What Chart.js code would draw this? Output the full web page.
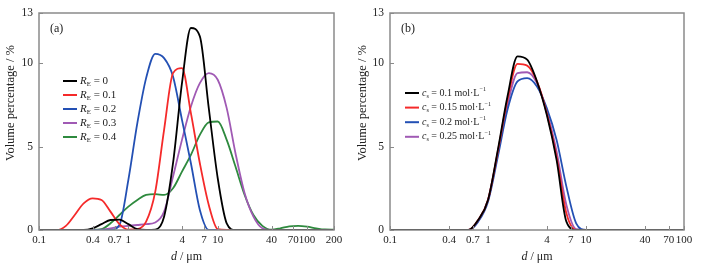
<!DOCTYPE html>
<html>
<head>
<meta charset="utf-8">
<script src="https://cdn.jsdelivr.net/npm/chart.js@4.4.1/dist/chart.umd.min.js"></script>
<style>
  html, body { margin: 0; padding: 0; background: #fff; }
  .panel { position: absolute; top: 0; width: 357px; height: 270px; }
</style>
</head>
<body>
<div class="panel" style="left:0"><canvas id="chartA" width="357" height="270"></canvas></div>
<div class="panel" style="left:357px"><canvas id="chartB" width="357" height="270"></canvas></div>
<script>
// particle size classes (um)
var sizes = [0.1, 0.126, 0.158, 0.2, 0.251, 0.316, 0.398, 0.501, 0.631, 0.794,
             1, 1.26, 1.58, 2, 2.51, 3.16, 3.98, 5.01, 6.31, 7.94,
             10, 12.6, 15.8, 20, 25.1, 31.6, 39.8, 50.1, 63.1, 79.4,
             100, 126, 158, 200];

// (a) volume percentage for each R_E
var re0  = [0,0,0,0,0,0,0.1,0.35,0.6,0.62, 0.35,0.05,0,0.02,0.8,4.0,8.8,12.1,11.6,7.3, 3.1,0.4,0,0,0,0,0,0,0,0, 0,0,0,0];
var re01 = [0,0,0,0.25,0.9,1.6,1.9,1.8,1.1,0.35, 0.02,0.05,0.5,2.3,6.0,9.4,9.7,7.0,4.0,1.5, 0.05,0,0,0,0,0,0,0,0,0, 0,0,0,0];
var re02 = [0,0,0,0,0,0,0,0,0,0.3, 3.0,6.4,9.1,10.55,10.3,9.2,6.6,4.0,1.2,0, 0,0,0,0,0,0,0,0,0,0, 0,0,0,0];
var re03 = [0,0,0,0,0,0,0,0.02,0.1,0.2, 0.25,0.3,0.35,0.45,1.1,3.2,5.4,7.4,8.8,9.4, 9.0,7.3,4.6,2.2,0.8,0.1,0,0,0,0, 0,0,0,0];
var re04 = [0,0,0,0,0,0,0,0.05,0.4,0.9, 1.4,1.8,2.1,2.15,2.1,2.5,3.5,4.5,5.7,6.45, 6.5,5.4,3.8,2.1,0.9,0.25,0.02,0.1,0.22,0.25, 0.2,0.1,0.03,0.02];
var reLabels = ['0', '0.1', '0.2', '0.3', '0.4'];

// (b) volume percentage for each c_s (sizes 0.1 - 100 um)
var cs01  = [0,0,0,0,0,0,0,0,0,0.6, 1.8,4.8,8.0,10.4,10.2,8.9,6.9,4.2,0.5,0, 0,0,0,0,0,0,0,0,0,0, 0];
var cs015 = [0,0,0,0,0,0,0,0,0,0.6, 1.8,4.7,7.8,9.95,9.85,8.9,7.0,4.4,1.0,0, 0,0,0,0,0,0,0,0,0,0, 0];
var cs02  = [0,0,0,0,0,0,0,0,0,0.5, 1.7,4.4,7.2,8.9,9.1,8.6,7.3,5.4,2.6,0.4, 0,0,0,0,0,0,0,0,0,0, 0];
var cs025 = [0,0,0,0,0,0,0,0,0,0.55, 1.8,4.6,7.5,9.4,9.45,8.8,7.1,4.7,1.5,0.05, 0,0,0,0,0,0,0,0,0,0, 0];
var csLabels = ['0.1', '0.15', '0.2', '0.25'];

var xTicksA = [0.1, 0.4, 0.7, 1, 4, 7, 10, 40, 70, 100, 200];
var xTicksB = [0.1, 0.4, 0.7, 1, 4, 7, 10, 40, 70, 100];
var yTicks = [0, 5, 10, 13];

var colorsA = ['#000000', '#f52a2a', '#2350b4', '#a05ab4', '#2e8a3e'];
var colorsB = ['#000000', '#f52a2a', '#2350b4', '#a05ab4'];

var serif = '"Liberation Serif", "DejaVu Serif", serif';

function makeSet(label, ys, color) {
  return {
    label: label,
    data: ys.map(function (v, i) { return { x: sizes[i], y: v }; }),
    borderColor: color,
    borderWidth: 1.8,
    pointRadius: 0,
    fill: false,
    cubicInterpolationMode: 'monotone'
  };
}

// draw a string made of styled parts
function drawParts(ctx, x, y, parts, size) {
  ctx.textBaseline = 'middle';
  ctx.textAlign = 'left';
  parts.forEach(function (p) {
    var fs = size, dy = 0, st = '';
    if (p[1] === 'i') st = 'italic ';
    if (p[1] === 'sub') { fs = size * 0.62; dy = 3; }
    if (p[1] === 'sup') { fs = size * 0.62; dy = -3.5; }
    ctx.font = st + fs + 'px ' + serif;
    ctx.fillText(p[0], x, y + dy);
    x += ctx.measureText(p[0]).width;
  });
  return x;
}

var decor = {
  id: 'decor',
  afterDraw: function (chart, args, opts) {
    var ctx = chart.ctx, a = chart.chartArea;
    var xs = chart.scales.x, ys = chart.scales.y;
    ctx.save();
    // inward tick marks
    ctx.strokeStyle = '#8a8a8a';
    ctx.lineWidth = 1;
    xs.ticks.forEach(function (t) {
      var px = Math.round(xs.getPixelForValue(t.value)) + 0.5;
      ctx.beginPath(); ctx.moveTo(px, a.bottom); ctx.lineTo(px, a.bottom - 4); ctx.stroke();
    });
    ys.ticks.forEach(function (t) {
      var py = Math.round(ys.getPixelForValue(t.value)) + 0.5;
      ctx.beginPath(); ctx.moveTo(a.left, py); ctx.lineTo(a.left + 4, py); ctx.stroke();
    });
    // frame
    ctx.lineWidth = 1.5;
    ctx.strokeRect(a.left, a.top, a.right - a.left, a.bottom - a.top);

    ctx.fillStyle = '#222';
    // panel tag
    ctx.font = '12px ' + serif;
    ctx.textBaseline = 'middle';
    ctx.fillText(opts.tag, a.left + 11, 29);

    // axis titles
    var w = 0;
    ctx.font = 'italic 12px ' + serif;
    w += ctx.measureText('d').width;
    ctx.font = '12px ' + serif;
    w += ctx.measureText(' / \u03bcm').width;
    drawParts(ctx, (a.left + a.right) / 2 - w / 2, 257, [['d', 'i'], [' / \u03bcm', 'n']], 12);

    ctx.save();
    ctx.translate(opts.yTitleX, 103);
    ctx.rotate(-Math.PI / 2);
    ctx.font = '12.5px ' + serif;
    ctx.textAlign = 'center';
    ctx.textBaseline = 'middle';
    ctx.fillText('Volume percentage / %', 0, 0);
    ctx.restore();

    // legend
    var lg = opts.legend;
    chart.data.datasets.forEach(function (ds, i) {
      var y = lg.y + i * lg.step;
      ctx.strokeStyle = ds.borderColor;
      ctx.lineWidth = 2;
      ctx.beginPath(); ctx.moveTo(lg.x, y); ctx.lineTo(lg.x + 14, y); ctx.stroke();
      ctx.fillStyle = '#222';
      drawParts(ctx, lg.x + 17, y, lg.parts(ds.label), lg.size);
    });
    ctx.restore();
  }
};

function makeOptions(xMax, xTicks, padRight, yAxisW, extra) {
  return {
    responsive: false,
    animation: false,
    devicePixelRatio: 1,
    layout: { padding: { top: 13, right: padRight, left: 0, bottom: 0 } },
    plugins: {
      legend: { display: false },
      tooltip: { enabled: false },
      decor: extra
    },
    scales: {
      x: {
        type: 'logarithmic',
        min: 0.1,
        max: xMax,
        afterBuildTicks: function (s) { s.ticks = xTicks.map(function (v) { return { value: v }; }); },
        afterFit: function (s) { s.height = 40; },
        ticks: {
          autoSkip: false, maxRotation: 0, padding: 4, color: '#222',
          font: { family: serif, size: 11 },
          callback: function (v) { return String(v); }
        },
        grid: { display: false, drawTicks: false },
        border: { display: false }
      },
      y: {
        min: 0,
        max: 13,
        afterBuildTicks: function (s) { s.ticks = yTicks.map(function (v) { return { value: v }; }); },
        afterFit: function (s) { s.width = yAxisW; },
        ticks: {
          padding: 6, color: '#222',
          font: { family: serif, size: 11.5 }
        },
        grid: { display: false, drawTicks: false },
        border: { display: false }
      }
    }
  };
}

var setsA = [re0, re01, re02, re03, re04].map(function (ys, i) {
  return makeSet(reLabels[i], ys, colorsA[i]);
});
var chartA = new Chart(document.getElementById('chartA'), {
  type: 'line',
  data: { datasets: setsA },
  options: makeOptions(200, xTicksA, 23, 39, {
    tag: '(a)',
    yTitleX: 11,
    legend: {
      x: 63, y: 81, step: 14, size: 11,
      parts: function (l) { return [['R', 'i'], ['E', 'sub'], [' = ' + l, 'n']]; }
    }
  }),
  plugins: [decor]
});

var setsB = [cs01, cs015, cs02, cs025].map(function (ys, i) {
  return makeSet(csLabels[i], ys, colorsB[i]);
});
var chartB = new Chart(document.getElementById('chartB'), {
  type: 'line',
  data: { datasets: setsB },
  options: makeOptions(100, xTicksB, 30, 33, {
    tag: '(b)',
    yTitleX: 6,
    legend: {
      x: 48, y: 93, step: 14.6, size: 10,
      parts: function (l) {
        return [['c', 'i'], ['s', 'sub'], [' = ' + l + ' mol\u00b7L', 'n'], ['\u22121', 'sup']];
      }
    }
  }),
  plugins: [decor]
});
</script>
</body>
</html>
